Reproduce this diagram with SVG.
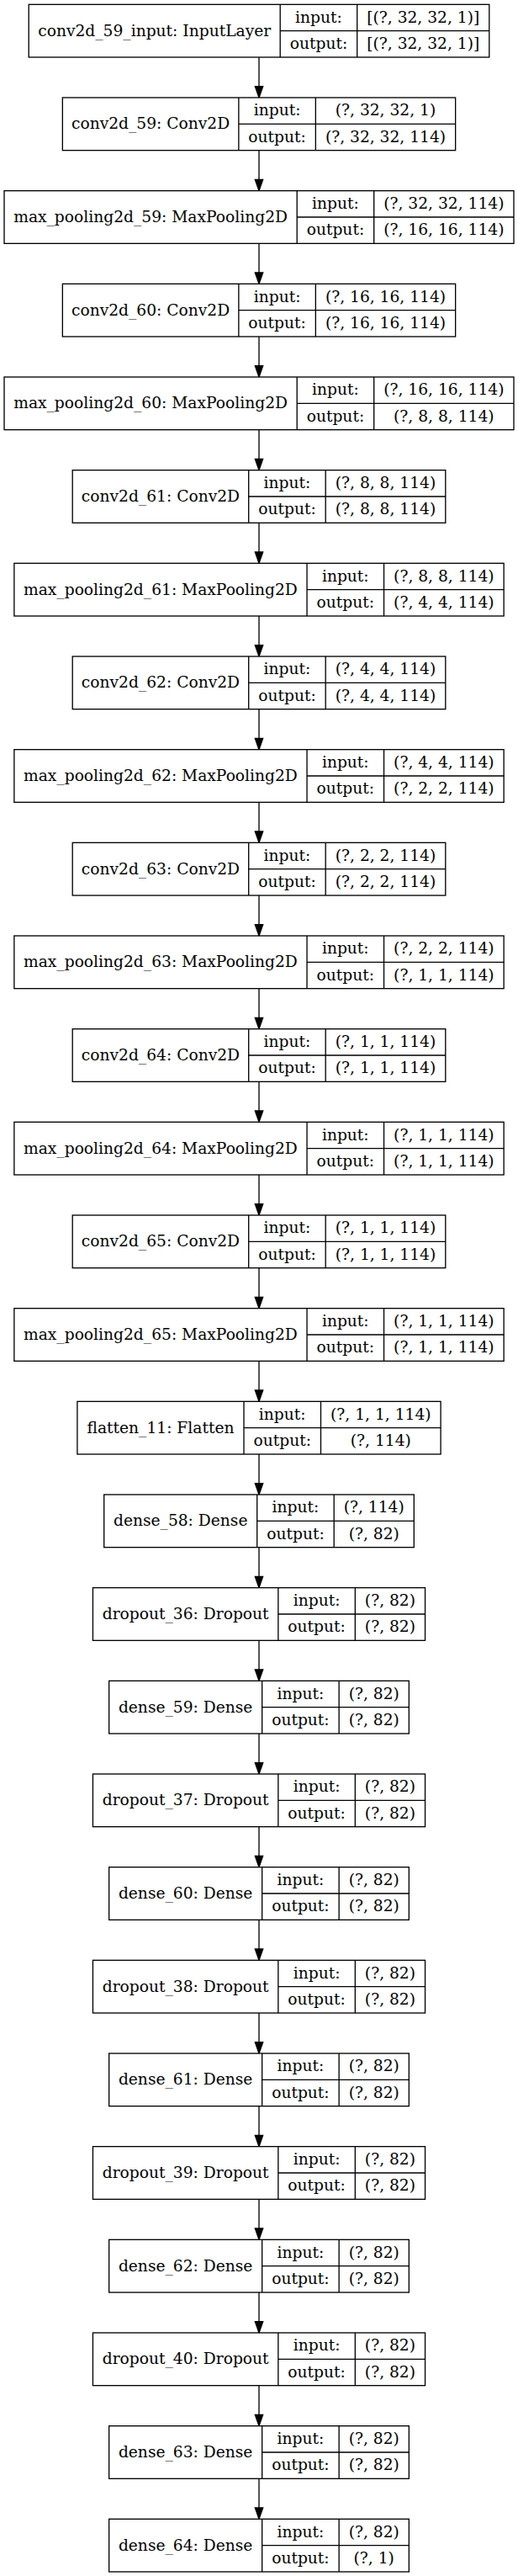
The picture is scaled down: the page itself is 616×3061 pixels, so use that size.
<svg xmlns="http://www.w3.org/2000/svg" width="616" height="3061" viewBox="0 0 616 3061">
<style>
.b{fill:#fff;stroke:#000;stroke-width:1.33}
.d{fill:none;stroke:#000;stroke-width:1.33}
.e{fill:none;stroke:#000;stroke-width:1.33;marker-end:url(#ah)}
text{font-family:"DejaVu Serif","Liberation Serif",serif;font-size:18.67px;text-anchor:middle;fill:#000}
</style>
<defs>
<marker id="ah" markerUnits="userSpaceOnUse" markerWidth="15" markerHeight="11" refX="13.33" refY="4.67" orient="auto" overflow="visible">
<path d="M0,0L13.33,4.67L0,9.33Z" fill="#000" stroke="#000" stroke-width="1.33"/>
</marker>
</defs>
<rect width="616" height="3061" fill="#fff"/>
<g id="edges">
<path class="e" d="M308,68V116"/>
<path class="e" d="M308,178.67V226.67"/>
<path class="e" d="M308,289.33V337.33"/>
<path class="e" d="M308,400V448"/>
<path class="e" d="M308,510.67V558.67"/>
<path class="e" d="M308,621.33V669.33"/>
<path class="e" d="M308,732V780"/>
<path class="e" d="M308,842.67V890.67"/>
<path class="e" d="M308,953.33V1001.33"/>
<path class="e" d="M308,1064V1112"/>
<path class="e" d="M308,1174.67V1222.67"/>
<path class="e" d="M308,1285.33V1333.33"/>
<path class="e" d="M308,1396V1444"/>
<path class="e" d="M308,1506.67V1554.67"/>
<path class="e" d="M308,1617.33V1665.33"/>
<path class="e" d="M308,1728V1776"/>
<path class="e" d="M308,1838.67V1886.67"/>
<path class="e" d="M308,1949.33V1997.33"/>
<path class="e" d="M308,2060V2108"/>
<path class="e" d="M308,2170.67V2218.67"/>
<path class="e" d="M308,2281.33V2329.33"/>
<path class="e" d="M308,2392V2440"/>
<path class="e" d="M308,2502.67V2550.67"/>
<path class="e" d="M308,2613.33V2661.33"/>
<path class="e" d="M308,2724V2772"/>
<path class="e" d="M308,2834.67V2882.67"/>
<path class="e" d="M308,2945.33V2993.33"/>
</g>
<g id="n0" transform="translate(34.2,5.33)">
<rect class="b" width="547.6" height="62.67"/>
<path class="d" d="M299,0V62.67M390.5,0V62.67M299,31.33H547.6"/>
<text x="149.5" y="37.3">conv2d_59_input: InputLayer</text>
<text x="344.75" y="21.2">input:</text><text x="344.75" y="52.5">output:</text>
<text x="469.05" y="21.2">[(?, 32, 32, 1)]</text><text x="469.05" y="52.5">[(?, 32, 32, 1)]</text>
</g>
<g id="n1" transform="translate(74.35,116)">
<rect class="b" width="467.3" height="62.67"/>
<path class="d" d="M209.5,0V62.67M301,0V62.67M209.5,31.33H467.3"/>
<text x="104.75" y="37.3">conv2d_59: Conv2D</text>
<text x="255.25" y="21.2">input:</text><text x="255.25" y="52.5">output:</text>
<text x="384.15" y="21.2">(?, 32, 32, 1)</text><text x="384.15" y="52.5">(?, 32, 32, 114)</text>
</g>
<g id="n2" transform="translate(5,226.67)">
<rect class="b" width="606" height="62.67"/>
<path class="d" d="M348.2,0V62.67M439.7,0V62.67M348.2,31.33H606"/>
<text x="174.1" y="37.3">max_pooling2d_59: MaxPooling2D</text>
<text x="393.95" y="21.2">input:</text><text x="393.95" y="52.5">output:</text>
<text x="522.85" y="21.2">(?, 32, 32, 114)</text><text x="522.85" y="52.5">(?, 16, 16, 114)</text>
</g>
<g id="n3" transform="translate(74.35,337.33)">
<rect class="b" width="467.3" height="62.67"/>
<path class="d" d="M209.5,0V62.67M301,0V62.67M209.5,31.33H467.3"/>
<text x="104.75" y="37.3">conv2d_60: Conv2D</text>
<text x="255.25" y="21.2">input:</text><text x="255.25" y="52.5">output:</text>
<text x="384.15" y="21.2">(?, 16, 16, 114)</text><text x="384.15" y="52.5">(?, 16, 16, 114)</text>
</g>
<g id="n4" transform="translate(5,448)">
<rect class="b" width="606" height="62.67"/>
<path class="d" d="M348.2,0V62.67M439.7,0V62.67M348.2,31.33H606"/>
<text x="174.1" y="37.3">max_pooling2d_60: MaxPooling2D</text>
<text x="393.95" y="21.2">input:</text><text x="393.95" y="52.5">output:</text>
<text x="522.85" y="21.2">(?, 16, 16, 114)</text><text x="522.85" y="52.5">(?, 8, 8, 114)</text>
</g>
<g id="n5" transform="translate(86.2,558.67)">
<rect class="b" width="443.6" height="62.67"/>
<path class="d" d="M209.5,0V62.67M301,0V62.67M209.5,31.33H443.6"/>
<text x="104.75" y="37.3">conv2d_61: Conv2D</text>
<text x="255.25" y="21.2">input:</text><text x="255.25" y="52.5">output:</text>
<text x="372.3" y="21.2">(?, 8, 8, 114)</text><text x="372.3" y="52.5">(?, 8, 8, 114)</text>
</g>
<g id="n6" transform="translate(16.85,669.33)">
<rect class="b" width="582.3" height="62.67"/>
<path class="d" d="M348.2,0V62.67M439.7,0V62.67M348.2,31.33H582.3"/>
<text x="174.1" y="37.3">max_pooling2d_61: MaxPooling2D</text>
<text x="393.95" y="21.2">input:</text><text x="393.95" y="52.5">output:</text>
<text x="511" y="21.2">(?, 8, 8, 114)</text><text x="511" y="52.5">(?, 4, 4, 114)</text>
</g>
<g id="n7" transform="translate(86.2,780)">
<rect class="b" width="443.6" height="62.67"/>
<path class="d" d="M209.5,0V62.67M301,0V62.67M209.5,31.33H443.6"/>
<text x="104.75" y="37.3">conv2d_62: Conv2D</text>
<text x="255.25" y="21.2">input:</text><text x="255.25" y="52.5">output:</text>
<text x="372.3" y="21.2">(?, 4, 4, 114)</text><text x="372.3" y="52.5">(?, 4, 4, 114)</text>
</g>
<g id="n8" transform="translate(16.85,890.67)">
<rect class="b" width="582.3" height="62.67"/>
<path class="d" d="M348.2,0V62.67M439.7,0V62.67M348.2,31.33H582.3"/>
<text x="174.1" y="37.3">max_pooling2d_62: MaxPooling2D</text>
<text x="393.95" y="21.2">input:</text><text x="393.95" y="52.5">output:</text>
<text x="511" y="21.2">(?, 4, 4, 114)</text><text x="511" y="52.5">(?, 2, 2, 114)</text>
</g>
<g id="n9" transform="translate(86.2,1001.33)">
<rect class="b" width="443.6" height="62.67"/>
<path class="d" d="M209.5,0V62.67M301,0V62.67M209.5,31.33H443.6"/>
<text x="104.75" y="37.3">conv2d_63: Conv2D</text>
<text x="255.25" y="21.2">input:</text><text x="255.25" y="52.5">output:</text>
<text x="372.3" y="21.2">(?, 2, 2, 114)</text><text x="372.3" y="52.5">(?, 2, 2, 114)</text>
</g>
<g id="n10" transform="translate(16.85,1112)">
<rect class="b" width="582.3" height="62.67"/>
<path class="d" d="M348.2,0V62.67M439.7,0V62.67M348.2,31.33H582.3"/>
<text x="174.1" y="37.3">max_pooling2d_63: MaxPooling2D</text>
<text x="393.95" y="21.2">input:</text><text x="393.95" y="52.5">output:</text>
<text x="511" y="21.2">(?, 2, 2, 114)</text><text x="511" y="52.5">(?, 1, 1, 114)</text>
</g>
<g id="n11" transform="translate(86.2,1222.67)">
<rect class="b" width="443.6" height="62.67"/>
<path class="d" d="M209.5,0V62.67M301,0V62.67M209.5,31.33H443.6"/>
<text x="104.75" y="37.3">conv2d_64: Conv2D</text>
<text x="255.25" y="21.2">input:</text><text x="255.25" y="52.5">output:</text>
<text x="372.3" y="21.2">(?, 1, 1, 114)</text><text x="372.3" y="52.5">(?, 1, 1, 114)</text>
</g>
<g id="n12" transform="translate(16.85,1333.33)">
<rect class="b" width="582.3" height="62.67"/>
<path class="d" d="M348.2,0V62.67M439.7,0V62.67M348.2,31.33H582.3"/>
<text x="174.1" y="37.3">max_pooling2d_64: MaxPooling2D</text>
<text x="393.95" y="21.2">input:</text><text x="393.95" y="52.5">output:</text>
<text x="511" y="21.2">(?, 1, 1, 114)</text><text x="511" y="52.5">(?, 1, 1, 114)</text>
</g>
<g id="n13" transform="translate(86.2,1444)">
<rect class="b" width="443.6" height="62.67"/>
<path class="d" d="M209.5,0V62.67M301,0V62.67M209.5,31.33H443.6"/>
<text x="104.75" y="37.3">conv2d_65: Conv2D</text>
<text x="255.25" y="21.2">input:</text><text x="255.25" y="52.5">output:</text>
<text x="372.3" y="21.2">(?, 1, 1, 114)</text><text x="372.3" y="52.5">(?, 1, 1, 114)</text>
</g>
<g id="n14" transform="translate(16.85,1554.67)">
<rect class="b" width="582.3" height="62.67"/>
<path class="d" d="M348.2,0V62.67M439.7,0V62.67M348.2,31.33H582.3"/>
<text x="174.1" y="37.3">max_pooling2d_65: MaxPooling2D</text>
<text x="393.95" y="21.2">input:</text><text x="393.95" y="52.5">output:</text>
<text x="511" y="21.2">(?, 1, 1, 114)</text><text x="511" y="52.5">(?, 1, 1, 114)</text>
</g>
<g id="n15" transform="translate(91.9,1665.33)">
<rect class="b" width="432.2" height="62.67"/>
<path class="d" d="M198.1,0V62.67M289.6,0V62.67M198.1,31.33H432.2"/>
<text x="99.05" y="37.3">flatten_11: Flatten</text>
<text x="243.85" y="21.2">input:</text><text x="243.85" y="52.5">output:</text>
<text x="360.9" y="21.2">(?, 1, 1, 114)</text><text x="360.9" y="52.5">(?, 114)</text>
</g>
<g id="n16" transform="translate(123.7,1776)">
<rect class="b" width="368.6" height="62.67"/>
<path class="d" d="M182,0V62.67M273.5,0V62.67M182,31.33H368.6"/>
<text x="91" y="37.3">dense_58: Dense</text>
<text x="227.75" y="21.2">input:</text><text x="227.75" y="52.5">output:</text>
<text x="321.05" y="21.2">(?, 114)</text><text x="321.05" y="52.5">(?, 82)</text>
</g>
<g id="n17" transform="translate(110.45,1886.67)">
<rect class="b" width="395.1" height="62.67"/>
<path class="d" d="M220.4,0V62.67M311.9,0V62.67M220.4,31.33H395.1"/>
<text x="110.2" y="37.3">dropout_36: Dropout</text>
<text x="266.15" y="21.2">input:</text><text x="266.15" y="52.5">output:</text>
<text x="353.5" y="21.2">(?, 82)</text><text x="353.5" y="52.5">(?, 82)</text>
</g>
<g id="n18" transform="translate(129.65,1997.33)">
<rect class="b" width="356.7" height="62.67"/>
<path class="d" d="M182,0V62.67M273.5,0V62.67M182,31.33H356.7"/>
<text x="91" y="37.3">dense_59: Dense</text>
<text x="227.75" y="21.2">input:</text><text x="227.75" y="52.5">output:</text>
<text x="315.1" y="21.2">(?, 82)</text><text x="315.1" y="52.5">(?, 82)</text>
</g>
<g id="n19" transform="translate(110.45,2108)">
<rect class="b" width="395.1" height="62.67"/>
<path class="d" d="M220.4,0V62.67M311.9,0V62.67M220.4,31.33H395.1"/>
<text x="110.2" y="37.3">dropout_37: Dropout</text>
<text x="266.15" y="21.2">input:</text><text x="266.15" y="52.5">output:</text>
<text x="353.5" y="21.2">(?, 82)</text><text x="353.5" y="52.5">(?, 82)</text>
</g>
<g id="n20" transform="translate(129.65,2218.67)">
<rect class="b" width="356.7" height="62.67"/>
<path class="d" d="M182,0V62.67M273.5,0V62.67M182,31.33H356.7"/>
<text x="91" y="37.3">dense_60: Dense</text>
<text x="227.75" y="21.2">input:</text><text x="227.75" y="52.5">output:</text>
<text x="315.1" y="21.2">(?, 82)</text><text x="315.1" y="52.5">(?, 82)</text>
</g>
<g id="n21" transform="translate(110.45,2329.33)">
<rect class="b" width="395.1" height="62.67"/>
<path class="d" d="M220.4,0V62.67M311.9,0V62.67M220.4,31.33H395.1"/>
<text x="110.2" y="37.3">dropout_38: Dropout</text>
<text x="266.15" y="21.2">input:</text><text x="266.15" y="52.5">output:</text>
<text x="353.5" y="21.2">(?, 82)</text><text x="353.5" y="52.5">(?, 82)</text>
</g>
<g id="n22" transform="translate(129.65,2440)">
<rect class="b" width="356.7" height="62.67"/>
<path class="d" d="M182,0V62.67M273.5,0V62.67M182,31.33H356.7"/>
<text x="91" y="37.3">dense_61: Dense</text>
<text x="227.75" y="21.2">input:</text><text x="227.75" y="52.5">output:</text>
<text x="315.1" y="21.2">(?, 82)</text><text x="315.1" y="52.5">(?, 82)</text>
</g>
<g id="n23" transform="translate(110.45,2550.67)">
<rect class="b" width="395.1" height="62.67"/>
<path class="d" d="M220.4,0V62.67M311.9,0V62.67M220.4,31.33H395.1"/>
<text x="110.2" y="37.3">dropout_39: Dropout</text>
<text x="266.15" y="21.2">input:</text><text x="266.15" y="52.5">output:</text>
<text x="353.5" y="21.2">(?, 82)</text><text x="353.5" y="52.5">(?, 82)</text>
</g>
<g id="n24" transform="translate(129.65,2661.33)">
<rect class="b" width="356.7" height="62.67"/>
<path class="d" d="M182,0V62.67M273.5,0V62.67M182,31.33H356.7"/>
<text x="91" y="37.3">dense_62: Dense</text>
<text x="227.75" y="21.2">input:</text><text x="227.75" y="52.5">output:</text>
<text x="315.1" y="21.2">(?, 82)</text><text x="315.1" y="52.5">(?, 82)</text>
</g>
<g id="n25" transform="translate(110.45,2772)">
<rect class="b" width="395.1" height="62.67"/>
<path class="d" d="M220.4,0V62.67M311.9,0V62.67M220.4,31.33H395.1"/>
<text x="110.2" y="37.3">dropout_40: Dropout</text>
<text x="266.15" y="21.2">input:</text><text x="266.15" y="52.5">output:</text>
<text x="353.5" y="21.2">(?, 82)</text><text x="353.5" y="52.5">(?, 82)</text>
</g>
<g id="n26" transform="translate(129.65,2882.67)">
<rect class="b" width="356.7" height="62.67"/>
<path class="d" d="M182,0V62.67M273.5,0V62.67M182,31.33H356.7"/>
<text x="91" y="37.3">dense_63: Dense</text>
<text x="227.75" y="21.2">input:</text><text x="227.75" y="52.5">output:</text>
<text x="315.1" y="21.2">(?, 82)</text><text x="315.1" y="52.5">(?, 82)</text>
</g>
<g id="n27" transform="translate(129.65,2993.33)">
<rect class="b" width="356.7" height="62.67"/>
<path class="d" d="M182,0V62.67M273.5,0V62.67M182,31.33H356.7"/>
<text x="91" y="37.3">dense_64: Dense</text>
<text x="227.75" y="21.2">input:</text><text x="227.75" y="52.5">output:</text>
<text x="315.1" y="21.2">(?, 82)</text><text x="315.1" y="52.5">(?, 1)</text>
</g>
</svg>
